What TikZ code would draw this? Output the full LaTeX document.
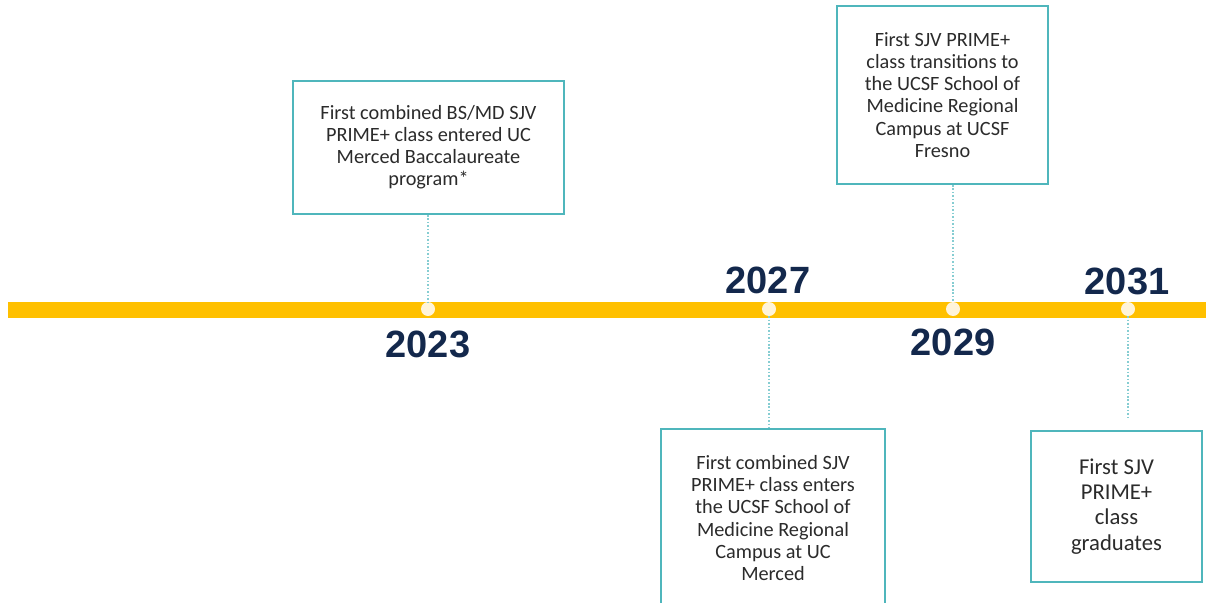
\documentclass[tikz,border=0pt]{standalone}
\usepackage{fontspec}
\setmainfont{Carlito}
\newfontfamily\yearfont{Liberation Sans}
\definecolor{boxteal}{HTML}{4FB6BC}
\definecolor{linkteal}{HTML}{86CDD2}
\definecolor{navy}{HTML}{13284C}
\definecolor{gold}{HTML}{FFC000}
\definecolor{dotcream}{HTML}{FFF4DA}
\definecolor{txtgray}{HTML}{2B2B2B}
\begin{document}
\begin{tikzpicture}[x=0.75pt,y=-0.75pt,
  evbox/.style={draw=boxteal, line width=1.4pt, fill=white, align=center, inner sep=0pt,
    text=txtgray, font=\fontsize{15.2}{16.6}\selectfont},
  bigbox/.style={evbox, font=\fontsize{17}{18.9}\selectfont},
  year/.style={text=navy, inner sep=0pt, font=\yearfont\bfseries\fontsize{28.5}{30}\selectfont},
  dot/.style={circle, fill=dotcream, minimum size=10.5pt, inner sep=0pt},
  link/.style={draw=linkteal, line width=0.8pt, dash pattern=on 1.2pt off 1.4pt}]
\useasboundingbox (0,0) rectangle (1206,603);
\clip (0,0) rectangle (1206,603);
% timeline bar
\draw[gold, line width=12pt] (8,310) -- (1206,310);
% dots
\node[dot] (d23) at (428,309) {};
\node[dot] (d27) at (769,309) {};
\node[dot] (d29) at (953,309) {};
\node[dot] (d31) at (1128,309) {};
% years
\node[year] (y23) at (428,344) {2023};
\node[year] (y27) at (768,280) {2027};
\node[year] (y29) at (953,342) {2029};
\node[year] (y31) at (1127,281) {2031};
% boxes
\node[evbox, minimum width=203.25pt, minimum height=99.75pt] (b1) at (428.5,147.5)
  {First combined BS/MD SJV\\PRIME+ class entered UC\\Merced Baccalaureate\\program*};
\node[evbox, minimum width=168pt, minimum height=133.5pt] (b2) at (773,518)
  {First combined SJV\\PRIME+ class enters\\the UCSF School of\\Medicine Regional\\Campus at UC\\Merced};
\node[evbox, minimum width=158.25pt, minimum height=133.5pt] (b3) at (942.5,95)
  {First SJV PRIME+\\class transitions to\\the UCSF School of\\Medicine Regional\\Campus at UCSF\\Fresno};
\node[bigbox, minimum width=128.25pt, minimum height=113.25pt] (b4) at (1116.5,506.5)
  {First SJV\\PRIME+\\class\\graduates};
% connectors
\coordinate (e31) at (1128,418);
\draw[link] (b1.south -| d23) -- (d23);
\draw[link] (d27) -- (d27 |- b2.north);
\draw[link] (b3.south -| d29) -- (d29);
\draw[link] (d31) -- (e31);
\end{tikzpicture}
\end{document}
